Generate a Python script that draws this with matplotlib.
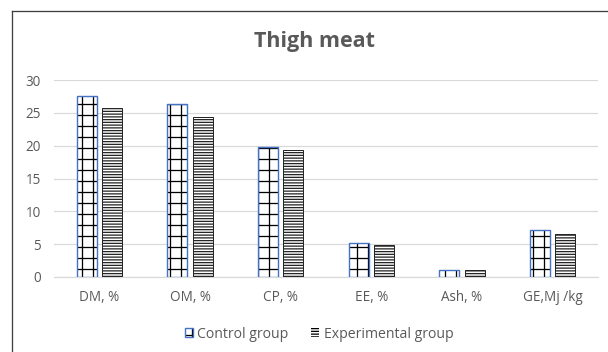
import matplotlib
matplotlib.use('Agg')
import matplotlib.pyplot as plt
from matplotlib.patches import Patch
from matplotlib.lines import Line2D
from matplotlib.legend_handler import HandlerTuple
import numpy as np

categories = ['DM, %', 'OM, %', 'CP, %', 'EE, %', 'Ash, %', 'GE,Mj /kg']
control = [27.5, 26.4, 19.8, 5.2, 1.1, 7.1]
experimental = [25.7, 24.4, 19.3, 4.8, 1.0, 6.5]

DPI = 66
W, H = 608, 352


def pt(px):
    return px * 72.0 / DPI


plt.rcParams['font.family'] = ['Open Sans', 'DejaVu Sans']
plt.rcParams['hatch.linewidth'] = 1.4
gray = '#595959'
blue = '#4472C4'

fig = plt.figure(figsize=(W / DPI, H / DPI), dpi=DPI)
ax = fig.add_axes([54 / W, 1 - 277 / H, (598 - 54) / W, (277 - 80) / H])

x = np.arange(len(categories))
off, bw = 0.14, 0.22

# control group: black grid pattern with blue outline
ax.bar(x - off, control, bw, color='white', edgecolor='black', linewidth=0,
       hatch='+', zorder=3)
ax.bar(x - off, control, bw, fill=False, edgecolor=blue, linewidth=pt(1.4), zorder=4)
# experimental group: dense horizontal stripes
ax.bar(x + off, experimental, bw, color='white', edgecolor='#262626',
       linewidth=pt(1.0), hatch='----', zorder=3)

ax.set_xlim(-0.5, len(categories) - 0.5)
ax.set_ylim(0, 30)
ax.set_yticks(range(0, 31, 5))
ax.set_xticks(x)
ax.set_xticklabels(categories)
ax.yaxis.grid(True, color='#d9d9d9', linewidth=pt(1.2), zorder=0)
ax.set_axisbelow(True)
for s in ['top', 'right', 'left']:
    ax.spines[s].set_visible(False)
ax.spines['bottom'].set_color('#d9d9d9')
ax.spines['bottom'].set_linewidth(pt(1.2))
ax.tick_params(axis='both', length=0, colors=gray, labelsize=pt(13.5))
ax.tick_params(axis='x', pad=pt(13))
ax.tick_params(axis='y', pad=pt(13))

fig.text(314 / W, 1 - 41 / H, 'Thigh meat', ha='center', va='center',
         fontsize=pt(21.5), fontweight='bold', color=gray)

# chart area border (left and top edges visible)
fig.add_artist(Line2D([12 / W, 12 / W], [0, 1 - 11 / H], color='#404040',
                      linewidth=pt(1.3), transform=fig.transFigure))
fig.add_artist(Line2D([12 / W, 1], [1 - 11 / H, 1 - 11 / H], color='#404040',
                      linewidth=pt(1.3), transform=fig.transFigure))

h_ctrl = (Patch(facecolor='white', edgecolor='black', linewidth=0, hatch='+'),
          Patch(fill=False, edgecolor=blue, linewidth=pt(1.4)))
h_exp = Patch(facecolor='white', edgecolor='black', linewidth=0, hatch='----')
fig.legend([h_ctrl, h_exp], ['Control group', 'Experimental group'],
           handler_map={tuple: HandlerTuple(ndivide=1)},
           loc='center', bbox_to_anchor=(319 / W, 1 - 334 / H), ncol=2,
           frameon=False, fontsize=pt(14), labelcolor=gray,
           handlelength=0.6, handleheight=0.6, handletextpad=0.3,
           columnspacing=1.6)

fig.savefig('out.png', dpi=DPI)
